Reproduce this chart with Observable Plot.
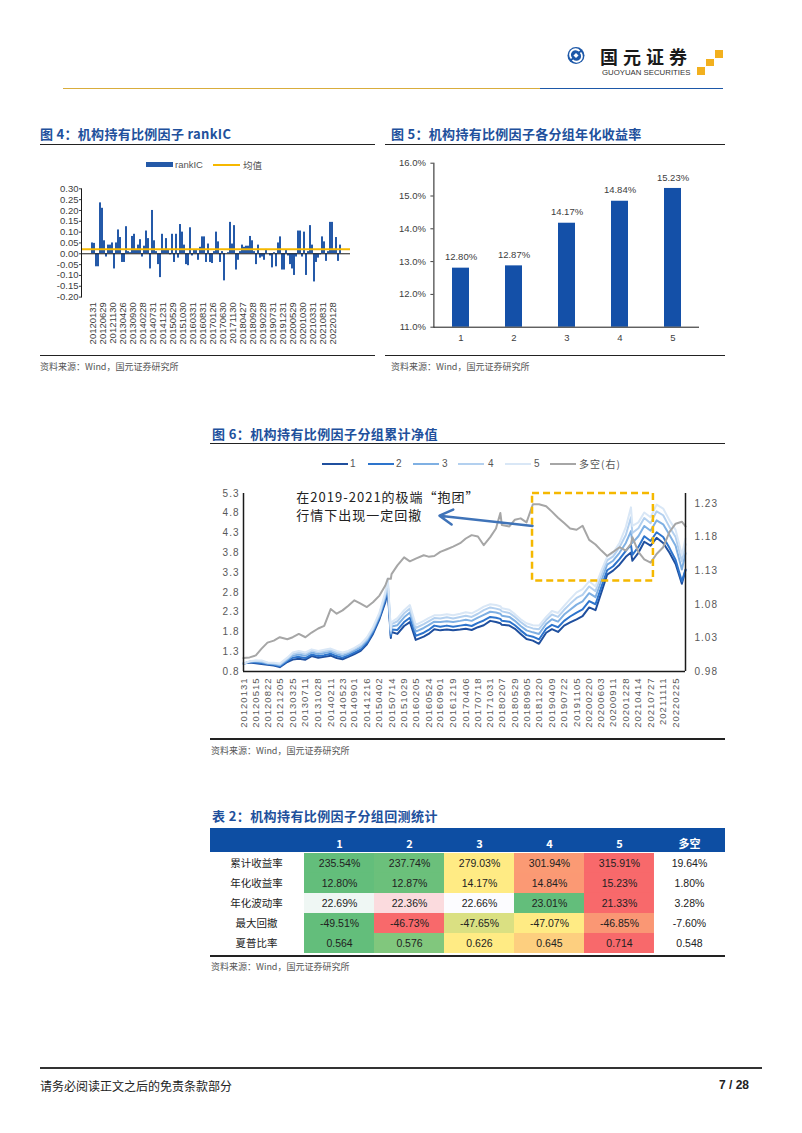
<!DOCTYPE html>
<html><head><meta charset="utf-8">
<script src="https://cdn.jsdelivr.net/npm/d3@7"></script>
<script src="https://cdn.jsdelivr.net/npm/@observablehq/plot@0.6"></script>
<style>
body{margin:0;background:#fff;}
#page{position:relative;width:802px;height:1133px;overflow:hidden;background:#fff;font-family:"Liberation Sans","Noto Sans CJK SC",sans-serif;color:#222;}
.abs{position:absolute;}
.title{position:absolute;font-family:"Noto Sans CJK SC";font-weight:700;font-size:13px;line-height:13px;color:#21509c;white-space:nowrap;letter-spacing:0.3px;}
.hr{position:absolute;height:0;border-top:1.5px solid #222;}
.src{position:absolute;font-family:"Noto Sans CJK SC";font-size:9px;line-height:10px;color:#555;white-space:nowrap;}
.lg{position:absolute;font-size:10px;line-height:10px;color:#555;white-space:nowrap;letter-spacing:1px;}
.sw{position:absolute;height:2.5px;}
.chart{position:absolute;}
</style></head>
<body><div id="page">
<!-- header -->
<svg class="abs" style="left:560px;top:40px" width="30" height="32">
  <circle cx="16" cy="15.5" r="8.5" fill="#1d58a8"/>
  <path d="M11.5,18.5 A5,5 0 0 1 19.5,11" fill="none" stroke="#fff" stroke-width="1.8"/>
  <path d="M20.5,12.5 A5,5 0 0 1 12.5,20" fill="none" stroke="#fff" stroke-width="1.8"/>
  <rect x="14.2" y="13.7" width="3.6" height="3.6" fill="#fff" transform="rotate(45 16 15.5)"/>
</svg>
<div class="abs" style="left:600px;top:47px;font-family:'Noto Sans CJK SC';font-weight:700;font-size:18px;line-height:18px;letter-spacing:5px;color:#1a1a1a;white-space:nowrap">国元证券</div>
<div class="abs" style="left:602px;top:69px;font-size:7.8px;line-height:8px;color:#333;white-space:nowrap">GUOYUAN SECURITIES</div>
<div class="abs" style="left:715px;top:50px;width:7.5px;height:7.5px;background:#f2b01e"></div>
<div class="abs" style="left:706px;top:58.5px;width:7.5px;height:7.5px;background:#f2b01e"></div>
<div class="abs" style="left:697px;top:67px;width:7.5px;height:7.5px;background:#f2b01e"></div>
<div class="abs" style="left:63px;top:87.5px;width:477px;height:1.5px;background:#d9ad3c"></div>
<div class="abs" style="left:540px;top:87.5px;width:183px;height:1.5px;background:#1d58a8"></div>

<!-- fig 4 -->
<div class="title" style="left:40px;top:127px">图 4：机构持有比例因子 rankIC</div>
<div class="hr" style="left:40px;top:143.5px;width:335px"></div>
<div class="sw" style="left:146px;top:162px;width:27px;height:5px;background:#2459a8"></div>
<div class="lg" style="left:175px;top:159.5px;font-size:9.5px;letter-spacing:0">rankIC</div>
<div class="sw" style="left:213px;top:163.5px;width:27px;height:2px;background:#f6b800"></div>
<div class="lg" style="left:243px;top:159.5px;font-family:'Noto Sans CJK SC';font-size:9.5px;letter-spacing:0">均值</div>
<div id="fig4" class="chart" style="left:40px;top:175px"></div>
<div class="hr" style="left:40px;top:354.5px;width:335px"></div>
<div class="src" style="left:40px;top:361.5px">资料来源：Wind，国元证券研究所</div>

<!-- fig 5 -->
<div class="title" style="left:391px;top:127px">图 5：机构持有比例因子各分组年化收益率</div>
<div class="hr" style="left:385px;top:143.5px;width:340px"></div>
<div id="fig5" class="chart" style="left:385px;top:150px"></div>
<div class="hr" style="left:385px;top:354.5px;width:340px"></div>
<div class="src" style="left:391px;top:361.5px">资料来源：Wind，国元证券研究所</div>

<!-- fig 6 -->
<div class="title" style="left:212px;top:427px;letter-spacing:0.4px">图 6：机构持有比例因子分组累计净值</div>
<div class="hr" style="left:210px;top:443px;width:515px"></div>
<div id="legend6"></div>
<div id="fig6" class="chart" style="left:205px;top:480px"></div>
<div class="hr" style="left:210px;top:737.5px;width:515px;border-top-width:2px"></div>
<div class="src" style="left:211px;top:745.5px">资料来源：Wind，国元证券研究所</div>

<!-- table -->
<div class="title" style="left:212px;top:809px;letter-spacing:0.4px">表 2：机构持有比例因子分组回测统计</div>
<div class="abs" style="left:210px;top:828.3px;width:515px;height:23.4px;background:#0d4ea3"></div>
<div id="tbl" class="chart" style="left:210px;top:828.3px"></div>
<div class="abs" style="left:210px;top:955px;width:515px;height:1.5px;background:#222"></div>
<div class="src" style="left:211px;top:961.5px">资料来源：Wind，国元证券研究所</div>

<!-- footer -->
<div class="abs" style="left:40px;top:1067px;width:722px;height:2px;background:#333"></div>
<div class="abs" style="left:40px;top:1079px;font-family:'Noto Sans CJK SC';font-size:12px;line-height:13px;color:#222;white-space:nowrap">请务必阅读正文之后的免责条款部分</div>
<div class="abs" style="left:712px;top:1079px;width:37px;text-align:right;font-weight:700;font-size:12px;line-height:13px;color:#222;white-space:nowrap">7 / 28</div>
</div>
<script>
// ---------- Fig 4 data: monthly rankIC (2012-01 .. 2022-05) ----------
const rankIC = [
 0.05,0.048,-0.06,-0.06,0.235,0.21,0.06,-0.015,0.04,0.04,
 0.05,-0.07,0.05,0.11,0.075,-0.04,-0.04,0.125,0.01,0.005,
 0.08,0.09,0.02,0.04,0.065,-0.015,0.035,0.105,0.07,-0.07,
 0.2,0.06,0.01,-0.05,-0.11,0.09,0.02,0.07,0.02,-0.005,
 0.09,-0.04,0.09,-0.02,0.135,0.1,0.04,-0.05,-0.055,0.12,
 -0.01,0.015,0.015,-0.03,0.03,0.078,0.078,-0.04,0.045,-0.04,
 -0.045,0.01,0.1,0.055,-0.04,0.01,-0.125,0.0,0.005,0.145,
 0.045,0.13,-0.075,-0.03,0.01,0.04,0.03,0.035,0.035,0.08,
 0.06,0.01,-0.05,0.04,-0.02,-0.015,-0.03,0.02,0.0,-0.01,
 -0.065,0.005,-0.06,0.05,0.078,-0.075,-0.075,0.015,-0.01,-0.05,
 -0.07,-0.1,-0.015,0.105,0.105,-0.015,0.1,-0.1,0.01,0.13,
 0.04,-0.13,-0.04,-0.02,-0.005,0.078,0.055,-0.035,0.01,0.145,
 0.145,0.02,0.075,-0.035,0.04
];
const icMean = 0.021;
const icTickLabels = ["20120131","20120629","20121130","20130426","20130930","20140228","20140731","20141231","20150529","20151030","20160331","20160831","20170126","20170630","20171130","20180427","20180928","20190228","20190731","20191231","20200529","20201030","20210331","20210831","20220128"];
const icYTicks = [-0.2,-0.15,-0.1,-0.05,0,0.05,0.1,0.15,0.2,0.25,0.3];

// ---------- Fig 5 data ----------
const groups = ["1","2","3","4","5"];
const groupAnnRet = [12.80,12.87,14.17,14.84,15.23];
const fig5Ticks = [11,12,13,14,15,16];

// ---------- Fig 6 data ----------
const navDates = ["20120131","20120323","20120515","20120703","20120822","20121015","20121205","20130207","20130325","20130516",
 "20130711","20130902","20131028","20131218","20140211","20140403","20140523","20140711","20140901","20141024",
 "20141216","20150206","20150402","20150522","20150612","20150708","20150714","20150902","20151029","20151217",
 "20160205","20160413","20160524","20160712","20160901","20161027","20161219","20170217","20170406","20170526",
 "20170718","20170906","20171031","20171219","20180125","20180207","20180412","20180529","20180717","20180905",
 "20181029","20181220","20190219","20190409","20190531","20190722","20190911","20191105","20191226","20200220",
 "20200414","20200603","20200722","20200911","20201104","20201228","20210210","20210222","20210414","20210603",
 "20210727","20210916","20211111","20220104","20220225","20220419","20220520"];
const nav1 = [1.00,1.03,1.01,0.99,0.97,0.95,0.91,1.04,1.10,1.12, 1.10,1.19,1.15,1.17,1.20,1.14,1.11,1.17,1.24,1.32,
 1.49,1.75,2.12,2.55,2.85,1.65,1.80,1.75,1.95,2.05, 1.60,1.68,1.75,1.87,1.84,1.86,1.84,1.86,1.88,1.85,
 1.92,1.97,2.08,2.05,2.02,1.98,1.96,1.88,1.75,1.62, 1.58,1.50,1.78,1.87,1.80,1.96,2.04,2.12,2.20,2.42,
 2.35,2.80,3.25,3.35,3.50,3.70,3.81,3.60,3.80,4.08, 3.98,4.18,4.05,3.80,3.52,3.02,3.36];
const nav2 = [1.00,1.04,1.03,1.01,0.99,0.97,0.93,1.07,1.15,1.17, 1.14,1.23,1.19,1.21,1.25,1.19,1.15,1.21,1.28,1.36,
 1.53,1.79,2.16,2.61,2.93,1.70,1.86,1.85,2.05,2.16, 1.70,1.78,1.85,1.96,1.93,1.96,1.93,1.96,1.98,1.95,
 2.03,2.09,2.18,2.16,2.13,2.08,2.06,1.97,1.84,1.72, 1.68,1.61,1.88,1.98,1.92,2.08,2.19,2.29,2.37,2.58,
 2.50,2.94,3.36,3.46,3.64,3.85,4.00,3.75,3.95,4.22, 4.10,4.32,4.20,3.92,3.62,3.08,3.38];
const nav3 = [1.00,1.05,1.05,1.04,1.00,0.99,0.96,1.10,1.20,1.23, 1.20,1.28,1.24,1.27,1.30,1.24,1.20,1.25,1.33,1.41,
 1.58,1.84,2.21,2.68,3.01,1.76,1.94,1.97,2.17,2.29, 1.81,1.90,1.97,2.06,2.05,2.07,2.05,2.08,2.11,2.08,
 2.16,2.23,2.31,2.29,2.26,2.21,2.18,2.08,1.95,1.84, 1.79,1.75,2.00,2.12,2.06,2.24,2.36,2.49,2.57,2.78,
 2.68,3.10,3.50,3.60,3.80,4.05,4.35,4.05,4.22,4.48, 4.36,4.62,4.52,4.25,3.98,3.38,3.79];
const nav4 = [1.00,1.05,1.07,1.06,1.02,1.01,0.98,1.13,1.24,1.28, 1.24,1.33,1.29,1.31,1.34,1.28,1.25,1.29,1.37,1.46,
 1.62,1.88,2.25,2.74,3.09,1.81,2.00,2.07,2.27,2.39, 1.90,2.00,2.07,2.15,2.14,2.17,2.14,2.18,2.21,2.18,
 2.26,2.35,2.42,2.39,2.36,2.32,2.28,2.18,2.05,1.94, 1.89,1.87,2.10,2.24,2.18,2.36,2.51,2.66,2.74,2.95,
 2.83,3.24,3.61,3.71,3.94,4.25,4.70,4.30,4.42,4.68, 4.55,4.85,4.75,4.45,4.20,3.58,4.02];
const nav5 = [1.00,1.06,1.08,1.08,1.03,1.02,1.00,1.15,1.28,1.32, 1.28,1.36,1.32,1.35,1.38,1.32,1.28,1.32,1.40,1.49,
 1.66,1.92,2.29,2.80,3.15,1.85,2.05,2.15,2.35,2.48, 1.98,2.08,2.15,2.22,2.22,2.25,2.22,2.26,2.30,2.27,
 2.35,2.44,2.50,2.48,2.45,2.40,2.36,2.25,2.12,2.02, 1.97,1.96,2.18,2.33,2.28,2.46,2.63,2.80,2.88,3.08,
 2.95,3.35,3.70,3.80,4.05,4.45,4.95,4.48,4.57,4.82, 4.70,5.02,4.92,4.62,4.38,3.75,4.16];
const navLS = [1.000,1.001,1.004,1.014,1.023,1.026,1.031,1.028,1.031,1.036, 1.031,1.038,1.044,1.048,1.073,1.066,1.071,1.078,1.086,1.081,
 1.076,1.083,1.093,1.108,1.118,1.118,1.125,1.138,1.150,1.144, 1.148,1.153,1.151,1.152,1.158,1.162,1.166,1.171,1.178,1.183,
 1.181,1.168,1.180,1.193,1.216,1.198,1.196,1.206,1.208,1.202, 1.229,1.229,1.226,1.218,1.209,1.201,1.193,1.191,1.197,1.176,
 1.169,1.160,1.152,1.158,1.165,1.160,1.170,1.180,1.158,1.147, 1.142,1.155,1.165,1.188,1.200,1.203,1.196];
const seriesNames = ["1","2","3","4","5","多空(右)"];
const navTickDates = ["20120131","20120515","20120822","20121205","20130325","20130711","20131028","20140211","20140523","20140901","20141216","20150402","20150714","20151029","20160205","20160524","20160901","20161219","20170406","20170718","20171031","20180207","20180529","20180905","20181220","20190409","20190722","20191105","20200220","20200603","20200911","20201228","20210414","20210727","20211111","20220225"];
const leftTicks = [0.8,1.3,1.8,2.3,2.8,3.3,3.8,4.3,4.8,5.3];
const rightTicks = [0.98,1.03,1.08,1.13,1.18,1.23];
const leftDomain = [0.8, 5.3];
const rightDomain = [0.98, 1.245];
const annotLines = ["在2019-2021的极端“抱团”", "行情下出现一定回撤"];
const annotPos = {date: "20130425", y: [5.19, 4.73]};
const arrowPts = {from: ["20181026", 4.48], to: ["20160825", 4.74]};
const boxPts = {x1: "20181026", x2: "20210820", y1: 3.09, y2: 5.3};

// ---------- Table data ----------
const rowLabels = ["累计收益率","年化收益率","年化波动率","最大回撤","夏普比率"];
const colLabels = ["1","2","3","4","5","多空"];
const cumRet = [235.54,237.74,279.03,301.94,315.91,19.64];
const annRet = [12.80,12.87,14.17,14.84,15.23,1.80];
const annVol = [22.69,22.36,22.66,23.01,21.33,3.28];
const maxDD  = [-49.51,-46.73,-47.65,-47.07,-46.85,-7.60];
const sharpe = [0.564,0.576,0.626,0.645,0.714,0.548];

// ================= render =================
const parse = d3.utcParse("%Y%m%d");
const baseStyle = {background: "transparent", fontFamily: "Liberation Sans, Arial, sans-serif", color: "#404040", overflow: "visible"};

// Fig 4
const icData = rankIC.map((v, i) => ({i, v}));
const icTickIdx = icTickLabels.map((_, k) => k * 5);
document.getElementById("fig4").append(Plot.plot({
  width: 330, height: 175,
  marginLeft: 41, marginRight: 20, marginTop: 13.3, marginBottom: 53.4,
  style: {...baseStyle, fontSize: "9.5px"},
  x: {type: "band", domain: d3.range(rankIC.length), paddingInner: 0.15, paddingOuter: 0.1},
  y: {domain: [-0.2, 0.3]},
  marks: [
    Plot.barY(icData, {x: "i", y: "v", fill: "#2459a8"}),
    Plot.ruleY([0], {stroke: "#1a1a1a", strokeWidth: 1}),
    Plot.ruleY([icMean], {stroke: "#f6b800", strokeWidth: 2}),
    Plot.frame({anchor: "left", stroke: "#1a1a1a"}),
    Plot.axisY({ticks: icYTicks, tickFormat: d => d.toFixed(2), tickSize: 2, tickPadding: 1, label: null}),
    Plot.axisX({ticks: icTickIdx, tickFormat: i => icTickLabels[i / 5], tickRotate: -90, tickSize: 0, tickPadding: 5, label: null})
  ]
}));

// Fig 5
const f5 = groups.map((g, i) => ({g, v: groupAnnRet[i]}));
document.getElementById("fig5").append(Plot.plot({
  width: 340, height: 200,
  marginLeft: 48.4, marginRight: 26, marginTop: 12.7, marginBottom: 23.3,
  style: {...baseStyle, fontSize: "9.5px"},
  x: {domain: groups, paddingInner: 0.68, paddingOuter: 0.34},
  y: {domain: [11, 16]},
  marks: [
    Plot.barY(f5, {x: "g", y1: 11, y2: "v", fill: "#1450a8"}),
    Plot.text(f5, {x: "g", y: "v", text: d => d.v.toFixed(2) + "%", dy: -11, fontSize: 9.5, fill: "#404040"}),
    Plot.ruleY([11], {stroke: "#1a1a1a"}),
    Plot.frame({anchor: "left", stroke: "#1a1a1a"}),
    Plot.axisY({ticks: fig5Ticks, tickFormat: d => d.toFixed(1) + "%", tickSize: 3, tickPadding: 5, label: null}),
    Plot.axisX({tickSize: 0, tickPadding: 7, label: null})
  ]
}));

// Fig 6
const toLeft = r => leftDomain[0] + (r - rightDomain[0]) / (rightDomain[1] - rightDomain[0]) * (leftDomain[1] - leftDomain[0]);
const fromLeft = v => rightDomain[0] + (v - leftDomain[0]) / (leftDomain[1] - leftDomain[0]) * (rightDomain[1] - rightDomain[0]);
const dts = navDates.map(parse);
const navSeries = [nav1, nav2, nav3, nav4, nav5];
const colors = ["#1f4f9e", "#2d74cc", "#7fb0e3", "#b3d0ef", "#d9e7f6", "#a6a6a6"];
const lineMarks = navSeries.map((arr, k) =>
  Plot.line(arr.map((v, i) => ({d: dts[i], v})), {x: "d", y: "v", stroke: colors[k], strokeWidth: 2}));
const lsData = navLS.map((v, i) => ({d: dts[i], v}));
document.getElementById("fig6").append(Plot.plot({
  width: 520, height: 255,
  marginLeft: 38, marginRight: 40, marginTop: 13, marginBottom: 64,
  style: {...baseStyle, fontSize: "9.5px", letterSpacing: "1px", color: "#595959"},
  x: {type: "utc", domain: [dts[0], dts[dts.length - 1]]},
  y: {domain: leftDomain},
  marks: [
    ...lineMarks,
    Plot.line(lsData, {x: "d", y: d => toLeft(d.v), stroke: colors[5], strokeWidth: 2}),
    Plot.rect([boxPts], {x1: d => parse(d.x1), x2: d => parse(d.x2), y1: "y1", y2: "y2", fill: "none", stroke: "#f5b800", strokeWidth: 2.5, strokeDasharray: "7,4"}),
    Plot.arrow([arrowPts], {x1: d => parse(d.from[0]), y1: d => d.from[1], x2: d => parse(d.to[0]), y2: d => d.to[1], stroke: "#3f73b8", strokeWidth: 2.5, headLength: 9}),
    Plot.text(annotLines, {x: () => parse(annotPos.date), y: (d, i) => annotPos.y[i], text: d => d, textAnchor: "start", fontSize: 13, fontFamily: "Noto Sans CJK SC", fill: "#222"}),
    Plot.ruleX([dts[0], dts[dts.length - 1]], {stroke: "#1a1a1a", strokeWidth: 1.5}),
    Plot.ruleY([leftDomain[0]], {stroke: "#1a1a1a", strokeWidth: 1.5}),
    Plot.axisY({ticks: leftTicks, tickFormat: d => d.toFixed(1), tickSize: 0, tickPadding: 4, fontSize: 10, label: null}),
    Plot.axisY({anchor: "right", ticks: rightTicks.map(toLeft), tickFormat: d => fromLeft(d).toFixed(2), tickSize: 0, tickPadding: 9, fontSize: 10, label: null}),
    Plot.axisX({ticks: navTickDates.map(parse), tickFormat: d3.utcFormat("%Y%m%d"), tickRotate: -90, tickSize: 0, tickPadding: 6, label: null})
  ]
}));

// Fig 6 legend
const lg = document.getElementById("legend6");
const legendPos = [[322, 350], [368, 396], [413, 442], [458, 488], [505, 534], [550, 579]];
seriesNames.forEach((n, k) => {
  const s = document.createElement("div");
  s.className = "sw"; s.style.left = legendPos[k][0] + "px"; s.style.top = "462.5px";
  s.style.width = "26px"; s.style.background = colors[k]; lg.append(s);
  const t = document.createElement("div");
  t.className = "lg"; t.style.left = legendPos[k][1] + "px"; t.style.top = "459px";
  if (k === 5) t.style.fontFamily = "'Noto Sans CJK SC'";
  t.textContent = n; lg.append(t);
});

// Table
const GREEN = "#63be7b", YELLOW = "#ffeb84", RED = "#f8696b", WHITE = "#fcfcff";
const rowsVals = [cumRet, annRet, annVol, maxDD, sharpe];
const rowFmt = [v => v.toFixed(2) + "%", v => v.toFixed(2) + "%", v => v.toFixed(2) + "%", v => v.toFixed(2) + "%", v => v.toFixed(3)];
const cells = [];
rowsVals.forEach((vals, r) => {
  const g = vals.slice(0, 5);
  const mn = d3.min(g), md = d3.median(g), mx = d3.max(g);
  const sc = r === 2
    ? d3.scaleLinear().domain([mn, md, mx]).range([RED, WHITE, GREEN])
    : d3.scaleLinear().domain([mn, md, mx]).range([GREEN, YELLOW, RED]);
  vals.forEach((v, c) => cells.push({row: rowLabels[r], col: colLabels[c], text: rowFmt[r](v), fill: c < 5 ? d3.color(sc(v)).formatHex() : "#ffffff"}));
});
document.getElementById("tbl").append(Plot.plot({
  width: 515, height: 127.4,
  marginLeft: 92, marginRight: 0, marginTop: 23.4, marginBottom: 0,
  style: {...baseStyle, fontSize: "10.5px", color: "#222"},
  x: {domain: colLabels, padding: 0, axis: null},
  y: {domain: rowLabels, padding: 0, axis: null},
  color: {type: "identity"},
  marks: [
    Plot.cell(cells, {x: "col", y: "row", fill: "fill", inset: 0}),
    Plot.text(cells, {x: "col", y: "row", text: "text", fill: "#222", fontSize: 10.5}),
    Plot.text(rowLabels, {y: d => d, frameAnchor: "left", dx: -46, textAnchor: "middle", fontFamily: "Noto Sans CJK SC", fontSize: 10.5, fill: "#222", style: "letter-spacing:2px"}),
    Plot.text(colLabels, {x: d => d, frameAnchor: "top", dy: -11.7, fill: "white", fontWeight: "bold", fontSize: 11, fontFamily: "Noto Sans CJK SC"})
  ]
}));
</script>
</body></html>
